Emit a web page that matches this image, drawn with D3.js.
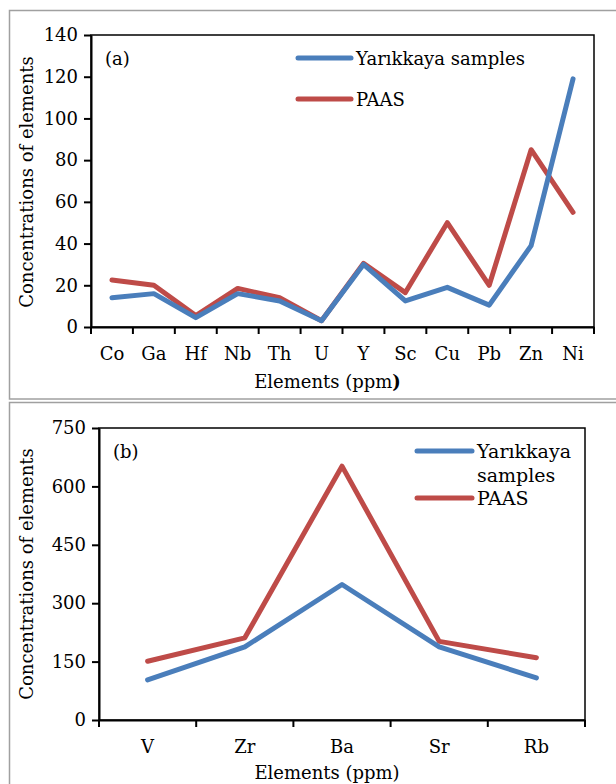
<!DOCTYPE html>
<html>
<head>
    <script src="https://cdn.jsdelivr.net/npm/d3@7"></script>
    <style type="text/css">
        body { margin: 0; background: white; }
        svg { display: block; }
        text { font-family: "DejaVu Serif", "Liberation Serif", serif; fill: black; }
        .axis path, .axis line { stroke: black; stroke-width: 2; }
        .axis text { font-size: 18px; }
    </style>
</head>
<body>
    <div id="chart"></div>

    <script type="text/javascript">
        // panel (a)
        var catsA = ["Co", "Ga", "Hf", "Nb", "Th", "U", "Y", "Sc", "Cu", "Pb", "Zn", "Ni"];
        var yarikkayaA = [14, 16, 4.5, 16, 12.5, 3, 30, 12.5, 19, 10.5, 39, 119];
        var paasA = [22.5, 20, 5.5, 18.5, 14, 3, 30.5, 16.5, 50, 20, 85, 55];
        var ticksA = [0, 20, 40, 60, 80, 100, 120, 140];

        // panel (b)
        var catsB = ["V", "Zr", "Ba", "Sr", "Rb"];
        var yarikkayaB = [103, 188, 348, 188, 108];
        var paasB = [151, 211, 652, 202, 160];
        var ticksB = [0, 150, 300, 450, 600, 750];

        var blue = "#4a7ebb", red = "#be4b48";

        var svg = d3.select("#chart").append("svg")
            .attr("width", 616)
            .attr("height", 784);

        // outer frames
        svg.append("rect").attr("x", 9.5).attr("y", 10.5).attr("width", 620).attr("height", 388.5)
            .attr("fill", "none").attr("stroke", "#a0a0a0").attr("stroke-width", 1.5);
        svg.append("rect").attr("x", 9.5).attr("y", 402.5).attr("width", 620).attr("height", 400)
            .attr("fill", "none").attr("stroke", "#a0a0a0").attr("stroke-width", 1.5);

        function drawChart(o) {
            var g = svg.append("g");

            var x = d3.scaleBand().domain(o.cats).range([o.left, o.right]);
            var y = d3.scaleLinear().domain([0, d3.max(o.ticks)]).range([o.bottom, o.top]);

            // plot frame
            g.append("rect")
                .attr("x", o.left).attr("y", o.top)
                .attr("width", o.right - o.left).attr("height", o.bottom - o.top)
                .attr("fill", "none").attr("stroke", "black").attr("stroke-width", 1.5);

            // y axis
            g.append("g")
                .attr("class", "axis")
                .attr("transform", "translate(" + o.left + ",0)")
                .call(d3.axisLeft(y).tickValues(o.ticks).tickSize(7).tickPadding(6).tickSizeOuter(0));

            // x axis labels at band centres
            g.append("g")
                .attr("class", "axis")
                .attr("transform", "translate(0," + o.bottom + ")")
                .call(d3.axisBottom(x).tickSize(0).tickPadding(o.labelPad).tickSizeOuter(0));

            // x tick marks at band edges
            var edges = o.cats.map(function (d) { return x(d); }).concat([o.right]);
            g.selectAll(".edge")
                .data(edges)
                .enter().append("line")
                .attr("x1", function (d) { return d; })
                .attr("x2", function (d) { return d; })
                .attr("y1", o.bottom)
                .attr("y2", o.bottom + 7)
                .attr("stroke", "black").attr("stroke-width", 2);

            var line = d3.line()
                .x(function (d, i) { return x(o.cats[i]) + x.bandwidth() / 2; })
                .y(function (d) { return y(d); });

            [[o.paas, red], [o.yar, blue]].forEach(function (s) {
                g.append("path")
                    .datum(s[0])
                    .attr("d", line)
                    .attr("fill", "none")
                    .attr("stroke", s[1])
                    .attr("stroke-width", 5)
                    .attr("stroke-linejoin", "round")
                    .attr("stroke-linecap", "round");
            });

            // panel letter
            g.append("text")
                .attr("x", o.left + 14).attr("y", o.top + 30)
                .style("font-size", "18px")
                .text(o.letter);

            // legend
            o.legend.forEach(function (l) {
                g.append("line")
                    .attr("x1", l.x).attr("x2", l.x + l.len)
                    .attr("y1", l.y).attr("y2", l.y)
                    .attr("stroke", l.color).attr("stroke-width", 5)
                    .attr("stroke-linecap", "round");
                var t = g.append("text")
                    .attr("x", l.x + l.len + 5)
                    .attr("y", l.y + 7)
                    .style("font-size", o.legendSize + "px");
                l.lines.forEach(function (s, i) {
                    t.append("tspan")
                        .attr("x", l.x + l.len + 5)
                        .attr("dy", i === 0 ? 0 : 24)
                        .text(s);
                });
            });

            // axis titles
            var xt = g.append("text")
                .attr("x", (o.left + o.right) / 2 + o.xTitleShift)
                .attr("y", o.xTitleY)
                .attr("text-anchor", "middle")
                .style("font-size", "18px");
            xt.append("tspan").text("Elements (ppm");
            xt.append("tspan").style("font-weight", o.boldParen ? "bold" : "normal").text(")");

            g.append("text")
                .attr("transform", "translate(33," + o.yTitleY + ") rotate(-90)")
                .attr("text-anchor", "middle")
                .style("font-size", "18px")
                .text("Concentrations of elements");
        }

        drawChart({
            cats: catsA, yar: yarikkayaA, paas: paasA, ticks: ticksA,
            left: 91, right: 594, top: 35, bottom: 327,
            labelPad: 20, letter: "(a)", legendSize: 18,
            legend: [
                { x: 298, y: 58, len: 53, color: blue, lines: ["Yarıkkaya samples"] },
                { x: 298, y: 99, len: 53, color: red, lines: ["PAAS"] }
            ],
            xTitleShift: -15, xTitleY: 388, boldParen: true, yTitleY: 182
        });

        drawChart({
            cats: catsB, yar: yarikkayaB, paas: paasB, ticks: ticksB,
            left: 99, right: 585, top: 428, bottom: 720,
            labelPad: 20, letter: "(b)", legendSize: 19,
            legend: [
                { x: 417, y: 451, len: 55, color: blue, lines: ["Yarıkkaya", "samples"] },
                { x: 417, y: 498, len: 55, color: red, lines: ["PAAS"] }
            ],
            xTitleShift: -15, xTitleY: 779, boldParen: false, yTitleY: 574
        });
    </script>
</body>
</html>
